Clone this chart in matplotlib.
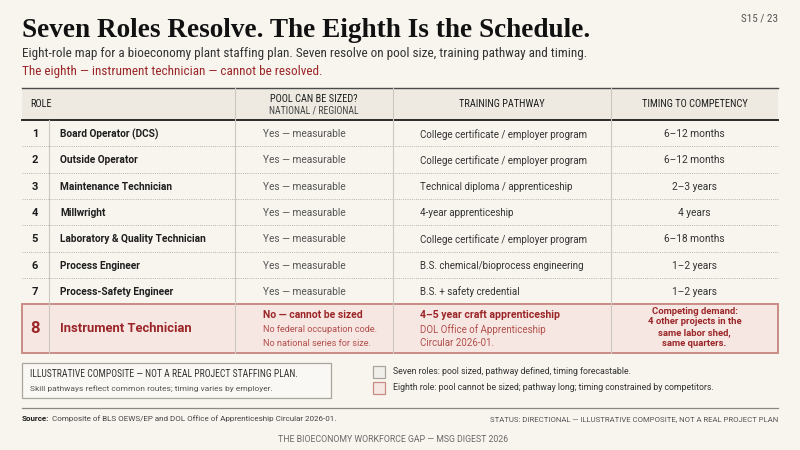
import matplotlib
matplotlib.use("Agg")
import matplotlib.pyplot as plt
from matplotlib.patches import Rectangle
from matplotlib import font_manager as fm

# ----------------------------------
# DATA
# ----------------------------------
TITLE = "Seven Roles Resolve. The Eighth Is the Schedule."
SUBTITLE = ("Eight-role map for a bioeconomy plant staffing plan. "
            "Seven resolve on pool size, training pathway and timing.")
SUBTITLE_RED = "The eighth \u2014 instrument technician \u2014 cannot be resolved."
PAGE = "S15 / 23"

HEADERS = ["ROLE", "POOL CAN BE SIZED?", "TRAINING PATHWAY", "TIMING TO COMPETENCY"]
HEADER_SUB = "NATIONAL / REGIONAL"

ROLE_NO = ["1", "2", "3", "4", "5", "6", "7"]
ROLES = [
    "Board Operator (DCS)",
    "Outside Operator",
    "Maintenance Technician",
    "Millwright",
    "Laboratory & Quality Technician",
    "Process Engineer",
    "Process-Safety Engineer",
]
POOL = [
    "Yes \u2014 measurable",
    "Yes \u2014 measurable",
    "Yes \u2014 measurable",
    "Yes \u2014 measurable",
    "Yes \u2014 measurable",
    "Yes \u2014 measurable",
    "Yes \u2014 measurable",
]
PATHWAY = [
    "College certificate / employer program",
    "College certificate / employer program",
    "Technical diploma / apprenticeship",
    "4-year apprenticeship",
    "College certificate / employer program",
    "B.S. chemical/bioprocess engineering",
    "B.S. + safety credential",
]
TIMING = [
    "6\u201312 months",
    "6\u201312 months",
    "2\u20133 years",
    "4 years",
    "6\u201318 months",
    "1\u20132 years",
    "1\u20132 years",
]

ROLE8_NO = "8"
ROLE8 = "Instrument Technician"
POOL8 = "No \u2014 cannot be sized"
POOL8_NOTE = ["No federal occupation code.", "No national series for size."]
PATH8 = "4\u20135 year craft apprenticeship"
PATH8_NOTE = ["DOL Office of Apprenticeship", "Circular 2026-01."]
TIMING8 = ["Competing demand:", "4 other projects in the",
           "same labor shed,", "same quarters."]

NOTE_LINES = ["ILLUSTRATIVE COMPOSITE \u2014 NOT A REAL PROJECT STAFFING PLAN.",
              "Skill pathways reflect common routes; timing varies by employer."]
LEGEND = ["Seven roles: pool sized, pathway defined, timing forecastable.",
          "Eighth role: pool cannot be sized; pathway long; timing constrained by competitors."]
SOURCE = "Composite of BLS OEWS/EP and DOL Office of Apprenticeship Circular 2026-01."
STATUS = "STATUS: DIRECTIONAL \u2014 ILLUSTRATIVE COMPOSITE, NOT A REAL PROJECT PLAN"
FOOTER = "THE BIOECONOMY WORKFORCE GAP \u2014 MSG DIGEST 2026"

# ----------------------------------
# STYLE
# ----------------------------------
BG = "#f8f5ef"
HEAD_BG = "#eeeae1"
INK = "#1e1e1e"
GREY = "#555555"
LINE = "#cdc8bf"
RED = "#9b2628"
RED_SOFT = "#b24f4c"
PINK = "#f7e7e3"
PINK_EDGE = "#c98b86"

names = {f.name for f in fm.fontManager.ttflist}


def pick(*cands):
    for c in cands:
        if c in names:
            return c
    return "DejaVu Sans"


SERIF = pick("Liberation Serif", "DejaVu Serif")
NARROW = pick("Liberation Sans Narrow", "Roboto Condensed", "Roboto")
BODY = pick("Roboto", "Lato", "Open Sans")

# ----------------------------------
# FIGURE (pixel coordinates)
# ----------------------------------
fig = plt.figure(figsize=(8, 4.5), dpi=100, facecolor=BG)
ax = fig.add_axes([0, 0, 1, 1])
ax.set_xlim(0, 800)
ax.set_ylim(450, 0)
ax.axis("off")

L, R = 22, 778
COL_X = [49, 235, 393, 611]

# title block
ax.text(L, 37, TITLE, family=SERIF, fontsize=19.6, fontweight="bold",
        color="#111111", va="baseline")
ax.text(R, 18, PAGE, family=NARROW, fontsize=8, color=GREY, ha="right", va="center")
ax.text(L, 54, SUBTITLE, family=NARROW, fontsize=9.5, color="#333333", va="center")
ax.text(L, 72, SUBTITLE_RED, family=NARROW, fontsize=9.5, color=RED, va="center")

# header band
HEAD_TOP, HEAD_BOT = 88, 120
ax.add_patch(Rectangle((L, HEAD_TOP), R - L, HEAD_BOT - HEAD_TOP,
                       facecolor=HEAD_BG, edgecolor="none"))
ax.plot([L, R], [HEAD_TOP, HEAD_TOP], color="#4a4a4a", lw=1.0)
ax.plot([L, R], [HEAD_BOT, HEAD_BOT], color="#2a2a2a", lw=1.4)

ax.text(30, 104, HEADERS[0], family=NARROW, fontsize=7.5, color=INK, va="center")
ax.text((COL_X[1] + COL_X[2]) / 2, 99, HEADERS[1], family=NARROW, fontsize=7.5,
        color=INK, ha="center", va="center")
ax.text((COL_X[1] + COL_X[2]) / 2, 111, HEADER_SUB, family=NARROW, fontsize=7,
        color="#444444", ha="center", va="center")
ax.text((COL_X[2] + COL_X[3]) / 2, 104, HEADERS[2], family=NARROW, fontsize=7.5,
        color=INK, ha="center", va="center")
ax.text((COL_X[3] + R) / 2, 104, HEADERS[3], family=NARROW, fontsize=7.5,
        color=INK, ha="center", va="center")

# body rows
ROW_H = 26.3
ROW8_TOP = HEAD_BOT + ROW_H * len(ROLES)
ROW8_BOT = 353

for i in range(len(ROLES)):
    yc = HEAD_BOT + ROW_H * (i + 0.5) + 1
    ax.text(35, yc, ROLE_NO[i], family=BODY, fontsize=8, fontweight="bold",
            color=INK, ha="center", va="center")
    ax.text(60, yc, ROLES[i], family=BODY, fontsize=7.3, fontweight="bold",
            color=INK, va="center")
    ax.text(263, yc, POOL[i], family=BODY, fontsize=7.3, color=GREY, va="center")
    ax.text(420, yc, PATHWAY[i], family=BODY, fontsize=7.0, color="#333333", va="center")
    ax.text((COL_X[3] + R) / 2, yc, TIMING[i], family=BODY, fontsize=7.3,
            color="#333333", ha="center", va="center")
    if i < len(ROLES) - 1:
        yl = HEAD_BOT + ROW_H * (i + 1)
        ax.plot([L, R], [yl, yl], color="#b9b4ab", lw=0.7, ls=(0, (1, 1.2)))

# row 8 highlight
ax.add_patch(Rectangle((L, ROW8_TOP), R - L, ROW8_BOT - ROW8_TOP,
                       facecolor=PINK, edgecolor=PINK_EDGE, lw=1.4, zorder=1))

# column lines
for x in COL_X:
    top = HEAD_BOT if x == COL_X[0] else HEAD_TOP
    ax.plot([x, x], [top, ROW8_BOT], color=LINE, lw=0.8, zorder=2)

y8 = (ROW8_TOP + ROW8_BOT) / 2
ax.text(35, y8, ROLE8_NO, family=BODY, fontsize=12, fontweight="bold",
        color=RED, ha="center", va="center")
ax.text(60, y8, ROLE8, family=BODY, fontsize=9.4, fontweight="bold",
        color=RED, va="center")
ax.text(263, 315, POOL8, family=BODY, fontsize=7.5, fontweight="bold",
        color=RED, va="center")
for k, s in enumerate(POOL8_NOTE):
    ax.text(263, 330 + 13.5 * k, s, family=BODY, fontsize=6.6, color=RED_SOFT, va="center")
ax.text(420, 315, PATH8, family=BODY, fontsize=7.6, fontweight="bold",
        color=RED, va="center")
for k, s in enumerate(PATH8_NOTE):
    ax.text(420, 330 + 13.5 * k, s, family=BODY, fontsize=7.0, color=RED_SOFT, va="center")
for k, s in enumerate(TIMING8):
    ax.text((COL_X[3] + R) / 2, 311 + 11 * k, s, family=BODY, fontsize=6.8,
            fontweight="bold", color=RED, ha="center", va="center")

# note box
ax.add_patch(Rectangle((L, 363), 331 - L, 35, facecolor="#faf8f4",
                       edgecolor="#a9a49c", lw=0.9))
ax.text(30, 374, NOTE_LINES[0], family=NARROW, fontsize=6.9, color="#333333", va="center")
ax.text(30, 389, NOTE_LINES[1], family=BODY, fontsize=6.0, color=GREY, va="center")

# legend
ax.add_patch(Rectangle((373, 366), 12, 12, facecolor="#f1efe9",
                       edgecolor="#a9a49c", lw=0.9))
ax.add_patch(Rectangle((373, 382), 12, 12, facecolor=PINK,
                       edgecolor=PINK_EDGE, lw=0.9))
ax.text(393, 372, LEGEND[0], family=BODY, fontsize=6.3, color="#333333", va="center")
ax.text(393, 388, LEGEND[1], family=BODY, fontsize=6.3, color="#333333", va="center")

# footer
ax.plot([L, R], [408, 408], color="#8d8881", lw=0.9)
src = ax.text(L, 421, "Source:", family=BODY, fontsize=5.8, fontweight="bold",
              color=INK, va="baseline")
ax.annotate(SOURCE, xy=(1, 0), xycoords=src, xytext=(2, 0), textcoords="offset points",
            family=BODY, fontsize=5.8, color="#444444", va="bottom", ha="left")
ax.text(R, 421, STATUS, family=BODY, fontsize=5.6, color="#555555", ha="right", va="baseline")
ax.text(393, 440, FOOTER, family=BODY, fontsize=6.3, color="#6a6a6a", ha="center", va="center")

fig.savefig("out.png", dpi=100, facecolor=BG)
